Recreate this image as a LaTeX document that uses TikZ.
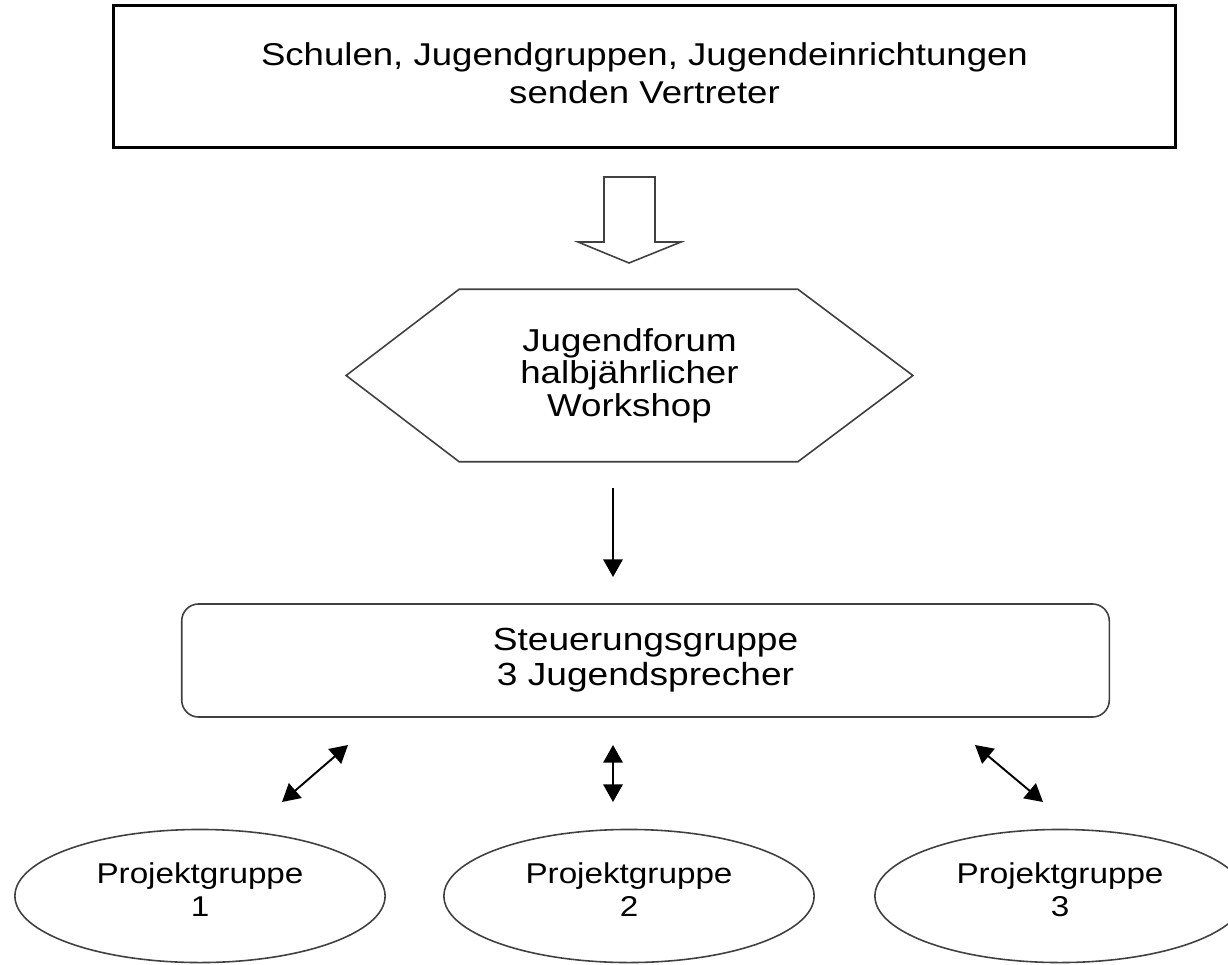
\documentclass[tikz,border=0pt]{standalone}
\usepackage{fontspec}
\setmainfont{Liberation Sans}[FakeStretch=1.16]
\usetikzlibrary{shapes.geometric,arrows.meta,calc}

\newcommand{\lowstrut}[1]{\rule[-#1]{0pt}{0pt}}

\begin{document}
\begin{tikzpicture}[x=0.01cm, y=-0.01cm,
  outline/.style={draw=black!75, line width=0.45pt},
  txt/.style={align=center, inner sep=0pt, font=\fontsize{9.1}{9.4}\selectfont},
  flow/.style={-{Triangle[length=5pt,width=5.5pt]}, line width=0.55pt},
  twoway/.style={{Triangle[length=5pt,width=5.5pt]}-{Triangle[length=5pt,width=5.5pt]}, line width=0.55pt},
  group/.style={outline, txt, ellipse, minimum width=3.7cm, minimum height=1.33cm, font=\fontsize{8.15}{9.4}\selectfont}]

\useasboundingbox (0,0) rectangle (1228,964);

% who sends
\node (schools) at (644.5,76.5) [draw, line width=0.85pt, txt, minimum width=10.61cm, minimum height=1.41cm, font=\fontsize{8.97}{10.8}\selectfont] {Schulen, Jugendgruppen, Jugendeinrichtungen\\senden Vertreter\lowstrut{1.7pt}};

% open block arrow
\draw [outline] (604,177) -- (655,177) -- (655,242) -- (681,242) -- (629,263) -- (578,242) -- (604,242) -- cycle;

% forum
\node (forum) at (629.5,375.5) [txt, minimum width=5.65cm, minimum height=1.71cm, font=\fontsize{9}{9.25}\selectfont] {Jugendforum\\halbjährlicher\\Workshop};
\draw [outline] (forum.west) -- ($(forum.north west)+(113,0)$) -- ($(forum.north east)-(115,0)$) -- (forum.east) -- ($(forum.south east)-(115,0)$) -- ($(forum.south west)+(113,0)$) -- cycle;

\coordinate (f1) at (613,488);
\coordinate (s1) at (613,577);
\draw [flow] (f1) -- (s1);

% steering group
\node (steer) at (645.5,660.5) [outline, txt, rounded corners=4.8pt, minimum width=9.27cm, minimum height=1.13cm, font=\fontsize{9.1}{9.96}\selectfont] {Steuerungsgruppe\\3 Jugendsprecher};

\coordinate (a1) at (282,802);
\coordinate (b1) at (348,745);
\coordinate (a2) at (613,745);
\coordinate (b2) at (613,802);
\coordinate (a3) at (975,745);
\coordinate (b3) at (1043,802);
\draw [twoway] (a1) -- (b1);
\draw [twoway] (a2) -- (b2);
\draw [twoway] (a3) -- (b3);

% project groups
\node (group1) at (200,896) [group] {Projektgruppe\\1\lowstrut{3.4pt}};
\node (group2) at (629,896) [group] {Projektgruppe\\2\lowstrut{3.4pt}};
\node (group3) at (1060,896) [group] {Projektgruppe\\3\lowstrut{3.4pt}};

\end{tikzpicture}
\end{document}
